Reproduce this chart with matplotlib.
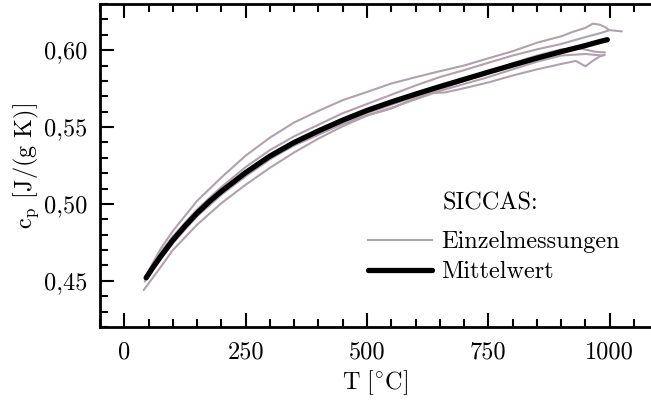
import matplotlib
matplotlib.use("Agg")
import matplotlib.pyplot as plt
from matplotlib.ticker import MultipleLocator, FuncFormatter
from matplotlib.lines import Line2D

plt.rcParams['font.family'] = ['cmr10', 'DejaVu Serif']
plt.rcParams['mathtext.fontset'] = 'cm'
plt.rcParams['axes.formatter.use_mathtext'] = True

# Mean curve (Mittelwert)
T_mean = [45, 60, 75, 100, 125, 150, 175, 200, 250, 300, 350, 400, 450, 500, 550,
          600, 650, 700, 750, 800, 850, 900, 950, 975, 995]
cp_mean = [0.4520, 0.4592, 0.4659, 0.4764, 0.4856, 0.4940, 0.5015, 0.5082, 0.5204,
           0.5311, 0.5400, 0.5475, 0.5545, 0.5608, 0.5663, 0.5714, 0.5763, 0.5810,
           0.5857, 0.5903, 0.5948, 0.5990, 0.6030, 0.6052, 0.6068]

# Individual measurements (Einzelmessungen)
T_1 = [48, 75, 100, 150, 200, 250, 300, 350, 400, 450, 500, 550, 600, 650, 700,
       750, 800, 850, 900, 925, 950, 965, 980, 990, 997]
cp_1 = [0.4554, 0.4709, 0.4824, 0.5020, 0.5172, 0.5314, 0.5431, 0.5530, 0.5605,
        0.5675, 0.5728, 0.5783, 0.5824, 0.5863, 0.5900, 0.5947, 0.5993, 0.6048,
        0.6090, 0.6120, 0.6145, 0.6172, 0.6165, 0.6150, 0.6135]

T_2 = [50, 75, 100, 150, 200, 250, 300, 350, 400, 450, 500, 550, 600, 650, 700,
       750, 800, 850, 900, 950, 980, 1000, 1025]
cp_2 = [0.4550, 0.4685, 0.4790, 0.4965, 0.5110, 0.5240, 0.5350, 0.5440, 0.5515,
        0.5590, 0.5650, 0.5710, 0.5770, 0.5825, 0.5870, 0.5918, 0.5965, 0.6005,
        0.6040, 0.6085, 0.6110, 0.6130, 0.6122]

T_3 = [42, 75, 100, 150, 200, 250, 300, 350, 400, 450, 500, 550, 600, 650, 700,
       750, 800, 850, 900, 940, 970, 990]
cp_3 = [0.4495, 0.4640, 0.4745, 0.4920, 0.5060, 0.5180, 0.5290, 0.5385, 0.5460,
        0.5525, 0.5590, 0.5645, 0.5700, 0.5745, 0.5800, 0.5850, 0.5915, 0.5965,
        0.6005, 0.6010, 0.5990, 0.5985]

T_4 = [40, 75, 100, 150, 200, 250, 300, 350, 400, 450, 500, 550, 600, 650, 700,
       750, 800, 850, 900, 950, 985]
cp_4 = [0.4440, 0.4590, 0.4700, 0.4865, 0.5005, 0.5125, 0.5235, 0.5335, 0.5425,
        0.5505, 0.5575, 0.5625, 0.5680, 0.5735, 0.5780, 0.5825, 0.5875, 0.5925,
        0.5965, 0.5975, 0.5965]

T_5 = [45, 75, 100, 150, 200, 250, 300, 350, 400, 450, 500, 550, 600, 630, 660,
       690, 750, 800, 850, 900, 930, 950, 965, 980, 990]
cp_5 = [0.4510, 0.4650, 0.4755, 0.4925, 0.5065, 0.5190, 0.5295, 0.5380, 0.5450,
        0.5520, 0.5575, 0.5620, 0.5690, 0.5720, 0.5725, 0.5745, 0.5790, 0.5835,
        0.5875, 0.5910, 0.5930, 0.5895, 0.5930, 0.5960, 0.5970]

singles = [(T_1, cp_1), (T_2, cp_2), (T_3, cp_3), (T_4, cp_4), (T_5, cp_5)]

x_ticks = [0, 250, 500, 750, 1000]
y_ticks = [0.45, 0.50, 0.55, 0.60]

single_color = '#b3a0ae'
FS = 17.5

fig = plt.figure(figsize=(6.51, 4.01), dpi=100)
ax = fig.add_axes([100/651, 1 - 327/401, 551/651, 323/401])

for T, cp in singles:
    ax.plot(T, cp, color=single_color, lw=1.5, solid_capstyle='round', zorder=2)
ax.plot(T_mean, cp_mean, color='black', lw=3.8, solid_capstyle='round', zorder=3)

ax.set_xlim(-50, 1085)
ax.set_ylim(0.420, 0.630)
ax.set_xticks(x_ticks)
ax.set_yticks(y_ticks)
ax.xaxis.set_minor_locator(MultipleLocator(50))
ax.yaxis.set_minor_locator(MultipleLocator(0.01))
ax.xaxis.set_major_formatter(FuncFormatter(lambda v, p: f"{v:.0f}"))
ax.yaxis.set_major_formatter(FuncFormatter(lambda v, p: f"{v:.2f}".replace('.', ',')))

ax.tick_params(which='both', direction='in', top=True, right=False, width=1.5,
               labelsize=FS)
ax.tick_params(which='major', length=10)
ax.tick_params(which='minor', length=5.5)
ax.tick_params(axis='y', pad=9)
ax.tick_params(axis='x', pad=10)
for s in ['left', 'bottom', 'top']:
    ax.spines[s].set_linewidth(2)
ax.spines['right'].set_visible(False)

ax.set_xlabel(r'$\mathrm{T\ [^{\circ}C]}$', fontsize=FS, labelpad=4)
ax.set_ylabel(r'c$_\mathrm{p}$ [J/(g K)]', fontsize=FS, labelpad=2)

handles = [Line2D([], [], color=single_color, lw=1.5),
           Line2D([], [], color='black', lw=3.8, solid_capstyle='round')]
leg = ax.legend(handles, ['Einzelmessungen', 'Mittelwert'], frameon=False,
                fontsize=FS, handlelength=2.63, handletextpad=0.37,
                labelspacing=0.33, loc='upper left', borderaxespad=0, borderpad=0,
                bbox_to_anchor=((368 - 100) / 551, (327 - 231) / 323))
ax.text((443 - 100) / 551, (327 - 203) / 323, 'SICCAS:', transform=ax.transAxes,
        fontsize=FS, va='center', ha='left')

fig.savefig('out.png', dpi=100)
